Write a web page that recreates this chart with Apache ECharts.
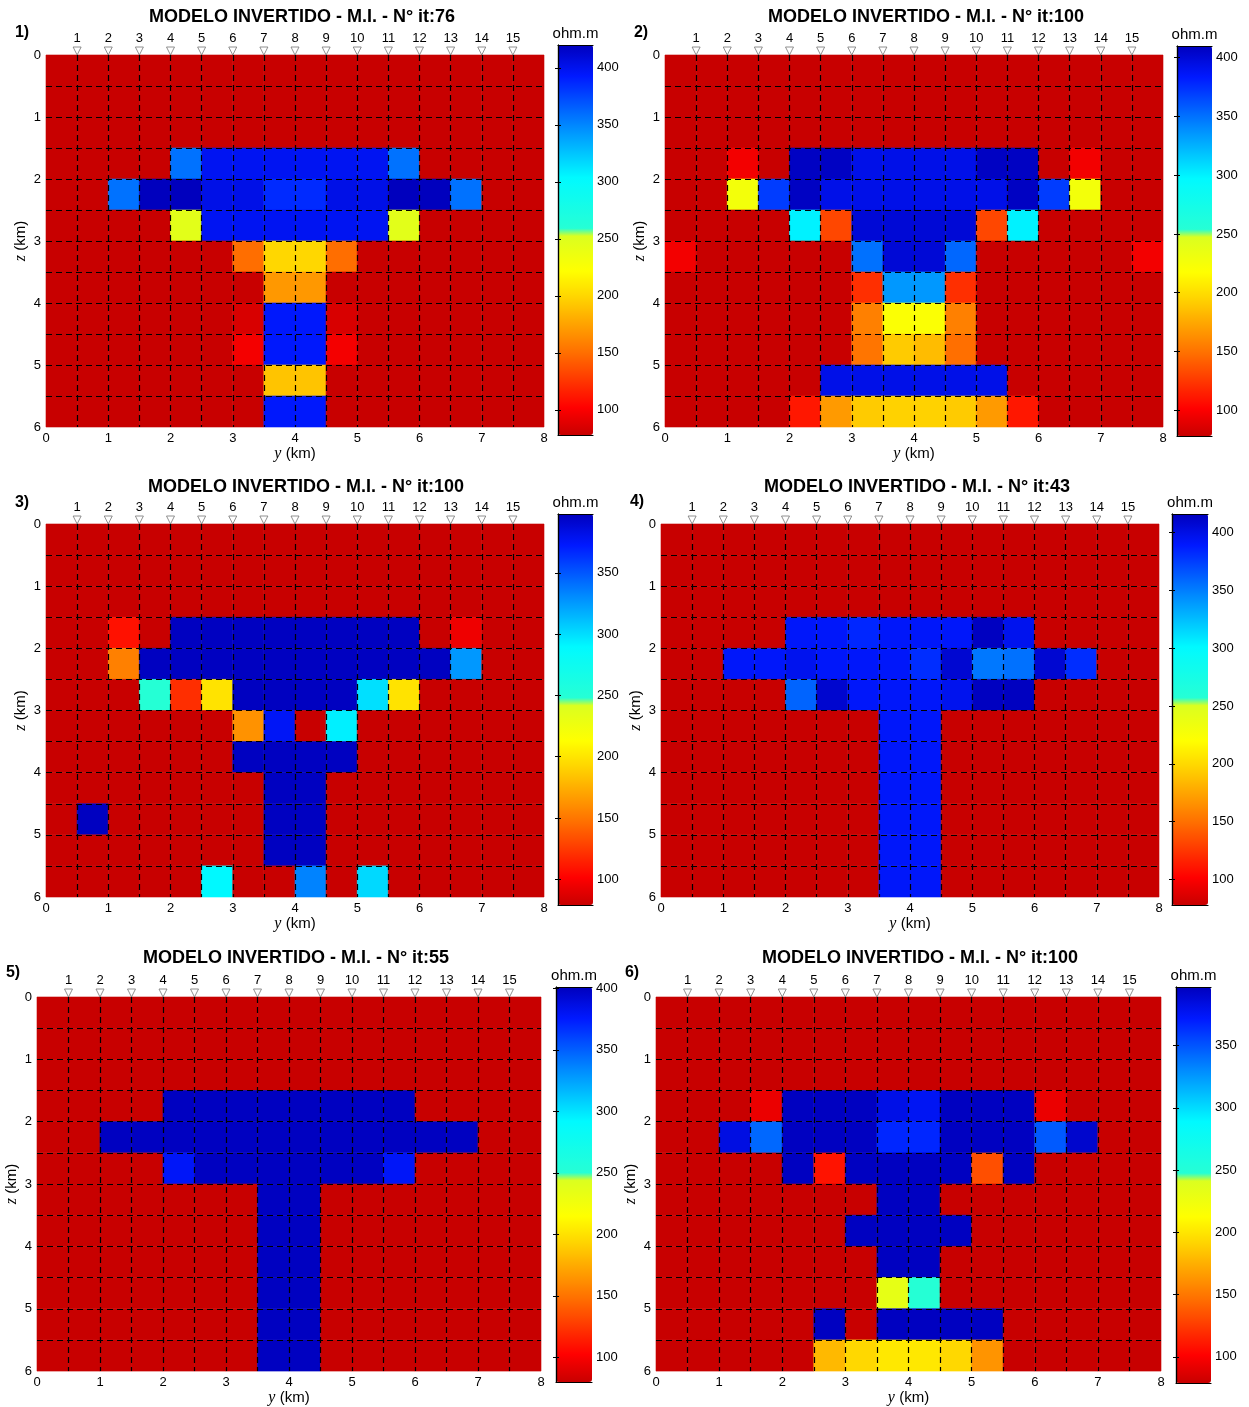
<!DOCTYPE html>
<html>
<head>
<meta charset="utf-8">
<script src="https://cdn.jsdelivr.net/npm/echarts@6/dist/echarts.min.js"></script>
<style>
  html, body { margin: 0; padding: 0; background: #fff; }
  #chart { width: 1249px; height: 1407px; }
</style>
</head>
<body>
<div id="chart"></div>
<script>
// Resistivity models (ohm.m): 12 layers (z, 0.5 km each) x 16 columns (y, 0.5 km each)
const model1 = [
  [78,78,78,78,78,78,78,78,78,78,78,78,78,78,78,78],
  [78,78,78,78,78,78,78,78,78,78,78,78,78,78,78,78],
  [78,78,78,78,78,78,78,78,78,78,78,78,78,78,78,78],
  [78,78,78,78,358,398,398,398,398,398,398,358,78,78,78,78],
  [78,78,358,420,420,403,403,386,386,403,403,420,420,358,78,78],
  [78,78,78,78,246,398,398,398,398,398,398,246,78,78,78,78],
  [78,78,78,78,78,78,150,200,200,150,78,78,78,78,78,78],
  [78,78,78,78,78,78,78,170,170,78,78,78,78,78,78,78],
  [78,78,78,78,78,78,85,394,394,85,78,78,78,78,78,78],
  [78,78,78,78,78,78,97,394,394,97,78,78,78,78,78,78],
  [78,78,78,78,78,78,78,191,191,78,78,78,78,78,78,78],
  [78,78,78,78,78,78,78,394,394,78,78,78,78,78,78,78]
];
const model2 = [
  [78,78,78,78,78,78,78,78,78,78,78,78,78,78,78,78],
  [78,78,78,78,78,78,78,78,78,78,78,78,78,78,78,78],
  [78,78,78,78,78,78,78,78,78,78,78,78,78,78,78,78],
  [78,78,96,78,408,408,393,393,393,393,408,408,78,96,78,78],
  [78,78,227,370,408,393,393,393,393,393,393,408,370,227,78,78],
  [78,78,78,78,300,131,400,400,400,400,131,300,78,78,78,78],
  [96,78,78,78,78,78,350,400,400,354,78,78,78,78,78,96],
  [78,78,78,78,78,78,121,335,335,121,78,78,78,78,78,78],
  [78,78,78,78,78,78,156,221,221,156,78,78,78,78,78,78],
  [78,78,78,78,78,78,151,191,184,148,78,78,78,78,78,78],
  [78,78,78,78,78,393,393,393,393,393,393,78,78,78,78,78],
  [78,78,78,78,111,168,191,194,194,191,168,111,78,78,78,78]
];
const model3 = [
  [79,79,79,79,79,79,79,79,79,79,79,79,79,79,79,79],
  [79,79,79,79,79,79,79,79,79,79,79,79,79,79,79,79],
  [79,79,79,79,79,79,79,79,79,79,79,79,79,79,79,79],
  [79,79,108,79,397,397,397,397,397,397,397,397,79,95,79,79],
  [79,79,154,397,397,397,397,397,397,397,397,397,397,326,79,79],
  [79,79,79,248,120,199,397,397,397,397,299,199,79,79,79,79],
  [79,79,79,79,79,79,162,376,79,293,79,79,79,79,79,79],
  [79,79,79,79,79,79,397,397,397,397,79,79,79,79,79,79],
  [79,79,79,79,79,79,79,397,397,79,79,79,79,79,79,79],
  [79,397,79,79,79,79,79,397,397,79,79,79,79,79,79,79],
  [79,79,79,79,79,79,79,397,397,79,79,79,79,79,79,79],
  [79,79,79,79,79,290,79,79,334,79,302,79,79,79,79,79]
];
const model4 = [
  [78,78,78,78,78,78,78,78,78,78,78,78,78,78,78,78],
  [78,78,78,78,78,78,78,78,78,78,78,78,78,78,78,78],
  [78,78,78,78,78,78,78,78,78,78,78,78,78,78,78,78],
  [78,78,78,78,391,391,384,391,391,391,415,396,78,78,78,78],
  [78,78,391,391,396,391,391,391,381,408,352,355,408,381,78,78],
  [78,78,78,78,360,409,391,391,391,396,415,415,78,78,78,78],
  [78,78,78,78,78,78,78,391,391,78,78,78,78,78,78,78],
  [78,78,78,78,78,78,78,391,391,78,78,78,78,78,78,78],
  [78,78,78,78,78,78,78,391,391,78,78,78,78,78,78,78],
  [78,78,78,78,78,78,78,391,391,78,78,78,78,78,78,78],
  [78,78,78,78,78,78,78,391,391,78,78,78,78,78,78,78],
  [78,78,78,78,78,78,78,391,391,78,78,78,78,78,78,78]
];
const model5 = [
  [80,80,80,80,80,80,80,80,80,80,80,80,80,80,80,80],
  [80,80,80,80,80,80,80,80,80,80,80,80,80,80,80,80],
  [80,80,80,80,80,80,80,80,80,80,80,80,80,80,80,80],
  [80,80,80,80,400,400,400,400,400,400,400,400,80,80,80,80],
  [80,80,400,400,400,400,400,400,400,400,400,400,400,400,80,80],
  [80,80,80,80,378,400,400,400,400,400,400,378,80,80,80,80],
  [80,80,80,80,80,80,80,400,400,80,80,80,80,80,80,80],
  [80,80,80,80,80,80,80,400,400,80,80,80,80,80,80,80],
  [80,80,80,80,80,80,80,400,400,80,80,80,80,80,80,80],
  [80,80,80,80,80,80,80,400,400,80,80,80,80,80,80,80],
  [80,80,80,80,80,80,80,400,400,80,80,80,80,80,80,80],
  [80,80,80,80,80,80,80,400,400,80,80,80,80,80,80,80]
];
const model6 = [
  [79,79,79,79,79,79,79,79,79,79,79,79,79,79,79,79],
  [79,79,79,79,79,79,79,79,79,79,79,79,79,79,79,79],
  [79,79,79,79,79,79,79,79,79,79,79,79,79,79,79,79],
  [79,79,79,93,396,396,396,381,376,396,396,396,93,79,79,79],
  [79,79,383,343,396,396,396,367,367,396,396,396,348,391,79,79],
  [79,79,79,79,396,109,396,396,396,396,133,396,79,79,79,79],
  [79,79,79,79,79,79,79,396,396,79,79,79,79,79,79,79],
  [79,79,79,79,79,79,396,396,396,396,79,79,79,79,79,79],
  [79,79,79,79,79,79,79,396,396,79,79,79,79,79,79,79],
  [79,79,79,79,79,79,79,232,248,79,79,79,79,79,79,79],
  [79,79,79,79,79,396,79,396,396,396,396,79,79,79,79,79],
  [79,79,79,79,79,179,193,201,201,193,163,79,79,79,79,79]
];

// Colour scale limits of each panel (ohm.m)
const range1 = [78, 420];
const range2 = [78, 410];
const range3 = [79, 398];
const range4 = [78, 416];
const range5 = [80, 401];
const range6 = [79, 397];

const titles = [
  'MODELO INVERTIDO - M.I. - N° it:76',
  'MODELO INVERTIDO - M.I. - N° it:100',
  'MODELO INVERTIDO - M.I. - N° it:100',
  'MODELO INVERTIDO - M.I. - N° it:43',
  'MODELO INVERTIDO - M.I. - N° it:55',
  'MODELO INVERTIDO - M.I. - N° it:100'
];
const panelTags = ['1)', '2)', '3)', '4)', '5)', '6)'];

// Stations along the profile
const stationLabels = ['1','2','3','4','5','6','7','8','9','10','11','12','13','14','15'];
const stationY = [0.5, 1, 1.5, 2, 2.5, 3, 3.5, 4, 4.5, 5, 5.5, 6, 6.5, 7, 7.5];

// Axis tick labels
const yTicks = [0, 1, 2, 3, 4, 5, 6, 7, 8];
const zTicks = [0, 1, 2, 3, 4, 5, 6];
const cbTicks = [100, 150, 200, 250, 300, 350, 400];
const unitLabel = 'ohm.m';

const CELL = 0.5;
const FONT = '"Liberation Sans", Arial, Helvetica, sans-serif';

// Jet-like palette (low = dark red, high = dark blue) with the green band cut out
const CMAP_STOPS = [
  [0.000, 200, 0, 0],
  [0.070, 255, 0, 0],
  [0.210, 255, 110, 0],
  [0.357, 255, 215, 0],
  [0.420, 255, 255, 0],
  [0.519, 215, 255, 35],
  [0.521, 40, 255, 210],
  [0.660, 0, 250, 255],
  [0.800, 0, 130, 255],
  [0.920, 0, 25, 255],
  [1.000, 0, 0, 190]
];
function buildColormap(n) {
  const out = [];
  for (let i = 0; i < n; i++) {
    const t = i / (n - 1);
    let k = 0;
    while (k < CMAP_STOPS.length - 2 && t > CMAP_STOPS[k + 1][0]) k++;
    const a = CMAP_STOPS[k], b = CMAP_STOPS[k + 1];
    const f = Math.max(0, Math.min(1, (t - a[0]) / (b[0] - a[0])));
    const c = [1, 2, 3].map(j => Math.round(a[j] + (b[j] - a[j]) * f));
    out.push('rgb(' + c.join(',') + ')');
  }
  return out;
}
const colormap = buildColormap(301);

const panels = [
  { model: model1, range: range1 },
  { model: model2, range: range2 },
  { model: model3, range: range3 },
  { model: model4, range: range4 },
  { model: model5, range: range5 },
  { model: model6, range: range6 }
];

// Page layout of each panel: plot box, colour bar box, title centre, tag position (px)
const layouts = [
  { plot: [46, 55, 498, 372],  cb: [558, 45, 35, 390],   title: [302, 17],  tag: [22, 33] },
  { plot: [665, 55, 498, 372], cb: [1177, 46, 35, 390],  title: [926, 17],  tag: [641, 33] },
  { plot: [46, 524, 498, 373], cb: [558, 514, 35, 391],  title: [306, 487], tag: [22, 503] },
  { plot: [661, 524, 498, 373], cb: [1172, 514, 36, 391], title: [917, 487], tag: [637, 502] },
  { plot: [37, 997, 504, 378], cb: [556, 987, 36, 395],  title: [296, 958], tag: [13, 973] },
  { plot: [656, 997, 505, 378], cb: [1176, 987, 35, 396], title: [920, 958], tag: [632, 973] }
];

function cellData(model) {
  const out = [];
  model.forEach((row, r) => {
    row.forEach((v, c) => {
      out.push([(c + 0.5) * CELL, (r + 0.5) * CELL, v]);
    });
  });
  return out;
}

function renderCell(params, api) {
  const y = api.value(0), z = api.value(1);
  const p0 = api.coord([y - CELL / 2, z - CELL / 2]);
  const p1 = api.coord([y + CELL / 2, z + CELL / 2]);
  const color = api.visual('color');
  return {
    type: 'rect',
    shape: {
      x: Math.min(p0[0], p1[0]),
      y: Math.min(p0[1], p1[1]),
      width: Math.abs(p1[0] - p0[0]),
      height: Math.abs(p1[1] - p0[1])
    },
    style: { fill: color, stroke: color, lineWidth: 0.6 }
  };
}

const labelStyle = { color: '#000', fontSize: 13, fontFamily: FONT };
const dashed = { color: '#000', type: [6, 4], width: 1.2 };
const nameStyle = {
  color: '#000', fontSize: 15, fontFamily: FONT,
  rich: { it: { fontStyle: 'italic', fontFamily: '"Liberation Serif", "Times New Roman", serif', fontSize: 16, color: '#000' } }
};

const grid = [], xAxis = [], yAxis = [], series = [], visualMap = [], graphic = [];

panels.forEach((p, i) => {
  const L = layouts[i];
  const [vmin, vmax] = p.range;

  // main plot
  const gMain = grid.length;
  grid.push({ left: L.plot[0], top: L.plot[1], width: L.plot[2], height: L.plot[3], containLabel: false });

  const xBottom = xAxis.length;
  xAxis.push({
    gridIndex: gMain, type: 'value', position: 'bottom', min: 0, max: 8, interval: CELL, z: 5,
    name: '{it|y} (km)', nameLocation: 'middle', nameGap: 11, nameTextStyle: nameStyle,
    axisLine: { show: false }, axisTick: { show: false },
    axisLabel: Object.assign({ customValues: yTicks, margin: 5 }, labelStyle),
    splitLine: { show: true, showMinLine: false, showMaxLine: false, lineStyle: dashed }
  });
  xAxis.push({
    gridIndex: gMain, type: 'value', position: 'top', min: 0, max: 8, z: 5,
    axisLine: { show: false }, axisTick: { show: false }, splitLine: { show: false },
    axisLabel: Object.assign({
      customValues: stationY, margin: 10,
      formatter: v => stationLabels[stationY.indexOf(v)]
    }, labelStyle)
  });

  const yMain = yAxis.length;
  yAxis.push({
    gridIndex: gMain, type: 'value', inverse: true, min: 0, max: 6, interval: CELL, z: 5,
    name: '{it|z} (km)', nameLocation: 'middle', nameRotate: 90, nameGap: 17, nameTextStyle: nameStyle,
    axisLine: { show: false }, axisTick: { show: false },
    axisLabel: Object.assign({ customValues: zTicks, margin: 5 }, labelStyle),
    splitLine: { show: true, showMinLine: false, showMaxLine: false, lineStyle: dashed }
  });

  const sIdx = series.length;
  series.push({
    type: 'custom', xAxisIndex: xBottom, yAxisIndex: yMain,
    data: cellData(p.model), encode: { x: 0, y: 1 },
    renderItem: renderCell, z: 2, silent: true, animation: false
  });
  series.push({
    type: 'scatter', xAxisIndex: xBottom, yAxisIndex: yMain,
    data: stationY.map(v => [v, 0]),
    symbol: 'triangle', symbolRotate: 180, symbolSize: [8, 8], symbolOffset: [0, -4],
    clip: false, silent: true, animation: false, z: 6,
    itemStyle: { color: '#fff', borderColor: '#777', borderWidth: 1 }
  });

  visualMap.push({
    type: 'continuous', seriesIndex: sIdx, dimension: 2,
    min: vmin, max: vmax, calculable: false, hoverLink: false, realtime: false,
    orient: 'vertical', left: L.cb[0], top: L.cb[1],
    itemWidth: L.cb[2], itemHeight: L.cb[3], padding: 0,
    inRange: { color: colormap }
  });

  // colour bar frame, ticks and labels
  const gCb = grid.length;
  grid.push({ left: L.cb[0], top: L.cb[1], width: L.cb[2], height: L.cb[3], containLabel: false });
  const frame = { show: true, lineStyle: { color: '#000', width: 1.2 } };
  xAxis.push({ gridIndex: gCb, type: 'value', position: 'bottom', min: 0, max: 1, z: 6,
    axisLine: frame, axisTick: { show: false }, axisLabel: { show: false }, splitLine: { show: false } });
  xAxis.push({ gridIndex: gCb, type: 'value', position: 'top', min: 0, max: 1, z: 6,
    axisLine: frame, axisTick: { show: false }, axisLabel: { show: false }, splitLine: { show: false } });
  yAxis.push({ gridIndex: gCb, type: 'value', position: 'right', min: vmin, max: vmax, z: 6,
    axisLine: frame,
    axisTick: { show: true, inside: true, length: 3, customValues: cbTicks, lineStyle: { color: '#000' } },
    axisLabel: Object.assign({ customValues: cbTicks, margin: 4 }, labelStyle),
    splitLine: { show: false } });
  yAxis.push({ gridIndex: gCb, type: 'value', position: 'left', min: vmin, max: vmax, z: 6,
    axisLine: frame,
    axisTick: { show: true, inside: true, length: 3, customValues: cbTicks, lineStyle: { color: '#000' } },
    axisLabel: { show: false }, splitLine: { show: false } });

  graphic.push({
    type: 'text', x: L.title[0], y: L.title[1], silent: true,
    style: { text: titles[i], fill: '#000', fontSize: 18, fontWeight: 'bold', fontFamily: FONT, align: 'center', verticalAlign: 'middle' }
  });
  graphic.push({
    type: 'text', x: L.tag[0], y: L.tag[1], silent: true,
    style: { text: panelTags[i], fill: '#000', fontSize: 16, fontWeight: 'bold', fontFamily: FONT, align: 'center', verticalAlign: 'middle' }
  });
  graphic.push({
    type: 'text', x: L.cb[0] + L.cb[2] / 2, y: L.cb[1] - 11, silent: true,
    style: { text: unitLabel, fill: '#000', fontSize: 15, fontFamily: FONT, align: 'center', verticalAlign: 'middle' }
  });
});

const chart = echarts.init(document.getElementById('chart'), null, { renderer: 'canvas' });
chart.setOption({
  backgroundColor: '#fff',
  animation: false,
  grid, xAxis, yAxis, series, visualMap, graphic
});
</script>
</body>
</html>
